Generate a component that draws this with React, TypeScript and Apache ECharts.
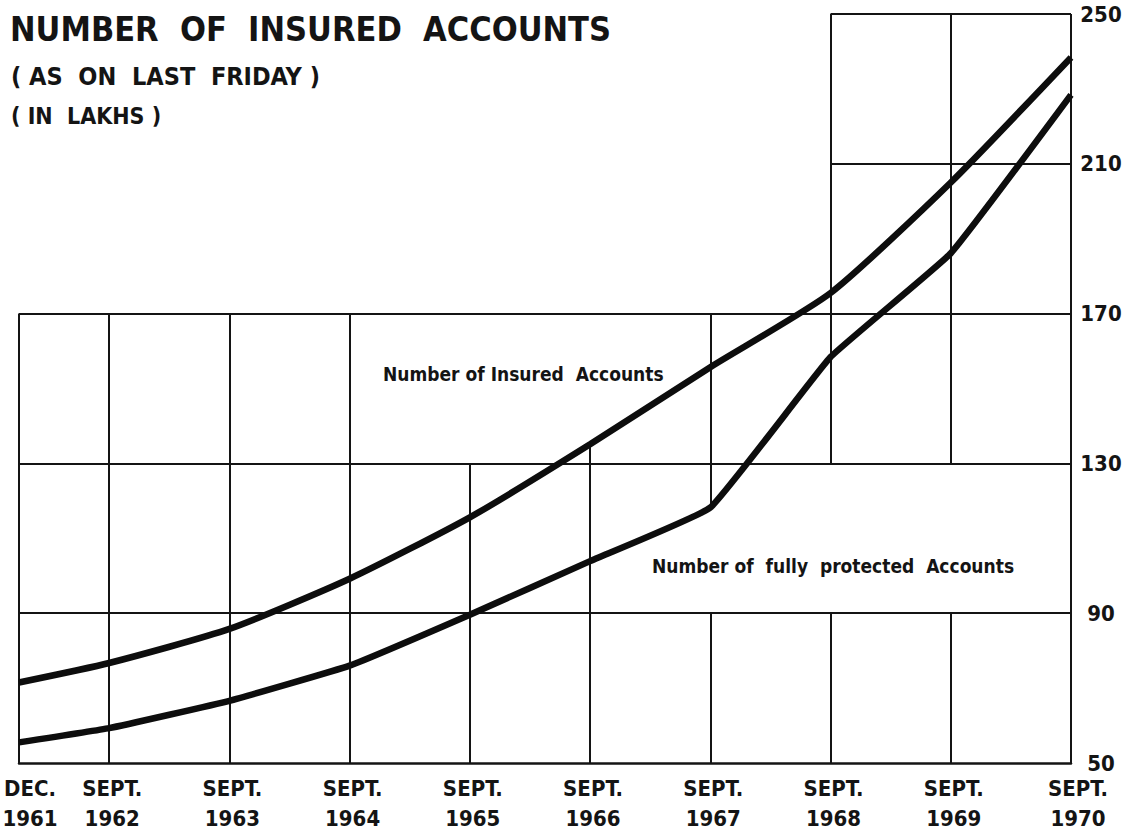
import { useEffect, useRef } from "react";
import * as echarts from "echarts";

// months since Dec 1961 for each observation
const MONTHS = [0, 9, 21, 33, 45, 57, 69, 81, 93, 105];
const MONTH_LABELS = ["DEC.", "SEPT.", "SEPT.", "SEPT.", "SEPT.", "SEPT.", "SEPT.", "SEPT.", "SEPT.", "SEPT."];
const YEAR_LABELS = ["1961", "1962", "1963", "1964", "1965", "1966", "1967", "1968", "1969", "1970"];

// values in lakhs
const INSURED = [71.5, 76.7, 85.8, 99.2, 115.6, 135.1, 155.7, 175.5, 205.0, 238.4];
const PROTECTED = [55.5, 59.3, 66.6, 76.0, 89.6, 103.9, 118.2, 158.4, 186.1, 228.4];

const Y_TICKS = [50, 90, 130, 170, 210, 250];

// ruled grid of the original drawing (broken where the captions sit)
const H_RULES = [
  { y: 250, from: 81, to: 105 },
  { y: 210, from: 81, to: 105 },
  { y: 170, from: 0, to: 105 },
  { y: 130, from: 0, to: 105 },
  { y: 90, from: 0, to: 105 },
];
const V_RULES = [
  { x: 0, from: 50, to: 170 },
  { x: 9, from: 50, to: 170 },
  { x: 21, from: 50, to: 170 },
  { x: 33, from: 50, to: 170 },
  { x: 45, from: 50, to: 130 },
  { x: 57, from: 50, to: INSURED[5] },
  { x: 69, from: PROTECTED[6], to: 170 },
  { x: 69, from: 50, to: 90 },
  { x: 81, from: 130, to: 250 },
  { x: 81, from: 50, to: 90 },
  { x: 93, from: 130, to: 250 },
  { x: 93, from: 50, to: 90 },
  { x: 105, from: 50, to: 250 },
];

const FONT = "'DejaVu Sans Condensed', 'Liberation Sans Narrow', 'DejaVu Sans', sans-serif";
const INK = "#141414";

export default function App() {
  const ref = useRef<HTMLDivElement>(null);

  useEffect(() => {
    document.body.style.margin = "0";
    const chart = echarts.init(ref.current!, null, { renderer: "svg" });

    const segments = [
      ...H_RULES.map((r) => ({ coords: [[r.from, r.y], [r.to, r.y]] })),
      ...V_RULES.map((r) => ({ coords: [[r.x, r.from], [r.x, r.to]] })),
    ];

    const labelRich = (pad: number) => ({
      fontSize: 22,
      lineHeight: 30,
      fontFamily: FONT,
      fontWeight: "bold",
      color: INK,
      padding: [0, 0, 0, pad],
    });

    chart.setOption({
      animation: false,
      backgroundColor: "#ffffff",
      title: [
        {
          text: "NUMBER  OF  INSURED  ACCOUNTS",
          left: 10,
          top: 11,
          padding: 0,
          textStyle: { fontSize: 34, lineHeight: 36, fontFamily: FONT, fontWeight: "bold", color: INK },
        },
        {
          text: "( AS  ON  LAST  FRIDAY )",
          left: 11,
          top: 63,
          padding: 0,
          textStyle: { fontSize: 25, lineHeight: 26, fontFamily: FONT, fontWeight: "bold", color: INK },
        },
        {
          text: "( IN  LAKHS )",
          left: 11,
          top: 104,
          padding: 0,
          textStyle: { fontSize: 23, lineHeight: 23, fontFamily: FONT, fontWeight: "bold", color: INK },
        },
      ],
      grid: { left: 19, right: 64, top: 14, bottom: 71, outerBoundsMode: "none", containLabel: false },
      xAxis: {
        type: "value",
        min: 0,
        max: 105,
        axisLine: { show: true, onZero: false, lineStyle: { color: INK, width: 2.5 } },
        axisTick: { show: false },
        splitLine: { show: false },
        axisLabel: {
          customValues: MONTHS,
          margin: 10,
          align: "center",
          formatter: (v: number) => {
            const i = MONTHS.indexOf(v);
            if (i < 0) return "";
            const key = i === 0 ? "f" : i === MONTHS.length - 1 ? "l" : "m";
            return `{${key}|${MONTH_LABELS[i]}}\n{${key}|${YEAR_LABELS[i]}}`;
          },
          rich: { f: labelRich(22), l: labelRich(14), m: labelRich(6) },
        },
      },
      yAxis: {
        type: "value",
        position: "right",
        min: 50,
        max: 250,
        axisLine: { show: false },
        axisTick: { show: false },
        splitLine: { show: false },
        axisLabel: {
          customValues: Y_TICKS,
          align: "center",
          margin: 30,
          fontSize: 22,
          fontWeight: "bold",
          fontFamily: FONT,
          color: INK,
        },
      },
      graphic: [
        {
          type: "text",
          left: 383,
          top: 364,
          style: { text: "Number of Insured  Accounts", font: `bold 19px ${FONT}`, fill: INK },
        },
        {
          type: "text",
          left: 652,
          top: 556,
          style: { text: "Number of  fully  protected  Accounts", font: `bold 19px ${FONT}`, fill: INK },
        },
      ],
      series: [
        {
          type: "lines",
          coordinateSystem: "cartesian2d",
          silent: true,
          z: 1,
          lineStyle: { color: INK, width: 2, opacity: 1, curveness: 0 },
          data: segments,
        },
        {
          type: "line",
          name: "Number of Insured Accounts",
          data: MONTHS.map((m, i) => [m, INSURED[i]]),
          smooth: 0.2,
          symbol: "none",
          z: 3,
          lineStyle: { color: "#0d0d0d", width: 6.5 },
        },
        {
          type: "line",
          name: "Number of fully protected Accounts",
          data: MONTHS.map((m, i) => [m, PROTECTED[i]]),
          smooth: 0.1,
          symbol: "none",
          z: 3,
          lineStyle: { color: "#0d0d0d", width: 6.5 },
        },
      ],
    });

    return () => chart.dispose();
  }, []);

  return <div ref={ref} style={{ width: 1135, height: 834, background: "#fff" }} />;
}
